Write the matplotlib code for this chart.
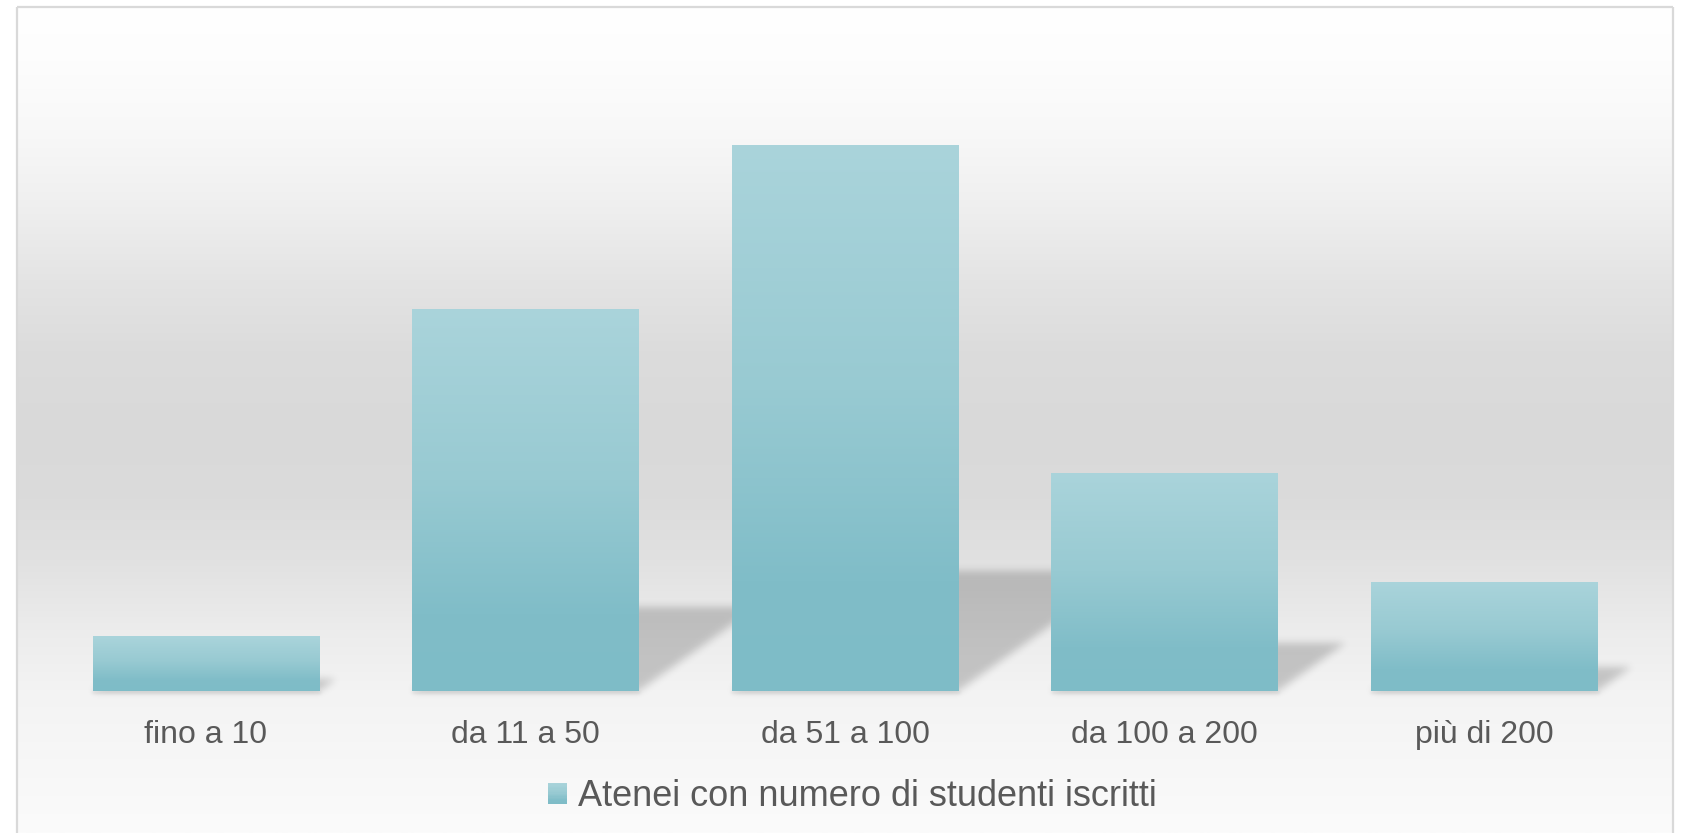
import numpy as np
import matplotlib
matplotlib.use("Agg")
import matplotlib.pyplot as plt
from matplotlib.patches import Rectangle
from matplotlib.legend_handler import HandlerBase

# ---------------- data ----------------
categories = ["fino a 10", "da 11 a 50", "da 51 a 100", "da 100 a 200", "più di 200"]
values = [1, 7, 10, 4, 2]
series_name = "Atenei con numero di studenti iscritti"

# ---------------- figure ----------------
W, H = 1683, 833
fig = plt.figure(figsize=(W / 100, H / 100), dpi=100)
fig.patch.set_facecolor("white")

# background panel with vertical gray gradient
bg = fig.add_axes([0, 0, 1, 1], zorder=-10)
bg.set_xlim(0, W)
bg.set_ylim(H, 0)
bg.axis("off")
stops_y = [7, 60, 130, 200, 280, 350, 430, 500, 560, 630, 690, 760, 833]
stops_v = [255, 253, 248, 240, 228, 220, 217, 219, 225, 236, 243, 247, 251]
ys = np.linspace(7, H, 500)
col = np.interp(ys, stops_y, stops_v) / 255.0
bgimg = np.dstack([np.repeat(col[:, None], 2, axis=1)] * 3)
bg.imshow(bgimg, extent=[17, 1673, H, 7], aspect="auto", interpolation="bilinear")
fc = "#d9d9d9"
bg.plot([17, 17], [H, 7], color=fc, lw=1.6, solid_capstyle="butt")
bg.plot([17, 1673], [7, 7], color=fc, lw=1.6, solid_capstyle="butt")
bg.plot([1673, 1673], [7, H], color=fc, lw=1.6, solid_capstyle="butt")
bg.set_xlim(0, W)
bg.set_ylim(H, 0)

# ---------------- main axes ----------------
unit_px = 54.6
ymin, ymax = -0.15, 12
base_px = 691
ax_bottom = H - base_px - (-ymin) * unit_px
ax_height = (ymax - ymin) * unit_px
left_px, width_px = 46.25, 1597.5
ax = fig.add_axes([left_px / W, ax_bottom / H, width_px / W, ax_height / H])
ax.patch.set_visible(False)
for s in ax.spines.values():
    s.set_visible(False)

x = np.arange(len(categories))
bars = ax.bar(x, values, width=0.71, color="#95c8d1", zorder=3, linewidth=0)

# bar gradient
stops_t = [0.0, 0.45, 0.8, 1.0]
stops_c = [(170, 212, 219), (152, 202, 210), (128, 189, 200), (126, 188, 199)]
tg = np.linspace(0, 1, 256)
grad = np.stack([np.interp(tg, stops_t, [c[i] for c in stops_c]) for i in range(3)], axis=-1) / 255.0
gimg = grad[:, None, :]
for b in bars:
    x0, y0, w, h = b.get_x(), b.get_y(), b.get_width(), b.get_height()
    im = ax.imshow(gimg, extent=[x0, x0 + w, y0, y0 + h], aspect="auto",
                   zorder=4, interpolation="bilinear")
    im.set_clip_path(b)

# perspective shadows
xl0, xl1 = -0.5, 4.5
nx, ny = int(width_px), int(round(ax_height))
xs = xl0 + (np.arange(nx) + 0.5) / nx * (xl1 - xl0)
yy = ymin + (np.arange(ny) + 0.5) / ny * (ymax - ymin)
XX, YY = np.meshgrid(xs, yy)
px_x = width_px / (xl1 - xl0)
mask = np.zeros((ny, nx))
mask2 = np.zeros((ny, nx))
for b, v in zip(bars, values):
    hs = 0.22 * v
    dx = 0.0530 * v
    lft = b.get_x()
    rgt = lft + b.get_width()
    t = YY / hs
    inside = (YY >= 0) & (YY <= hs) & (XX >= lft + dx * t) & (XX <= rgt + dx * t)
    mask = np.maximum(mask, inside.astype(float))
    under = (YY < 0) & (YY >= -3 / unit_px) & (XX >= lft) & (XX <= rgt + 2 / px_x)
    mask2 = np.maximum(mask2, under.astype(float))


def blur(a, sigma):
    r = int(3 * sigma)
    k = np.exp(-0.5 * (np.arange(-r, r + 1) / sigma) ** 2)
    k /= k.sum()
    p = np.pad(a, ((0, 0), (r, r)), mode="edge")
    out = np.zeros_like(a)
    for i in range(2 * r + 1):
        out += k[i] * p[:, i:i + a.shape[1]]
    p = np.pad(out, ((r, r), (0, 0)), mode="edge")
    out2 = np.zeros_like(a)
    for i in range(2 * r + 1):
        out2 += k[i] * p[i:i + a.shape[0], :]
    return out2


alpha = 0.19 * blur(mask, 4.0) + 0.07 * blur(mask2, 1.5)
rgba = np.zeros((ny, nx, 4))
rgba[..., 3] = np.clip(alpha, 0, 1)
ax.imshow(rgba, extent=[xl0, xl1, ymin, ymax], origin="lower", aspect="auto",
          zorder=2, interpolation="bilinear")

ax.set_xlim(xl0, xl1)
ax.set_ylim(ymin, ymax)
ax.set_yticks([])
ax.set_xticks(x, categories)
ax.tick_params(axis="x", length=0, pad=15, labelsize=23, labelcolor="#595959")
for lab in ax.get_xticklabels():
    lab.set_fontfamily(["Liberation Sans", "DejaVu Sans"])


# ---------------- legend ----------------
class GradHandler(HandlerBase):
    def create_artists(self, legend, orig_handle, xdescent, ydescent,
                       width, height, fontsize, trans):
        n = 16
        arts = []
        for i in range(n):
            tt = 1 - (i + 0.5) / n
            c = grad[int(tt * 255)]
            r = Rectangle((-xdescent, -ydescent + i * height / n), width,
                          height / n * 1.05, facecolor=c, edgecolor="none",
                          antialiased=False, transform=trans)
            arts.append(r)
        return arts


proxy = Rectangle((0, 0), 1, 1)
fig.legend(handles=[proxy], labels=[series_name], handler_map={proxy: GradHandler()},
           loc="center", bbox_to_anchor=(852 / W, 1 - 797 / H), frameon=False,
           prop={"family": ["Liberation Sans", "DejaVu Sans"], "size": 26},
           labelcolor="#595959", handlelength=0.53, handleheight=0.53,
           handletextpad=0.3, borderpad=0, borderaxespad=0)

fig.savefig("out.png", dpi=100)
